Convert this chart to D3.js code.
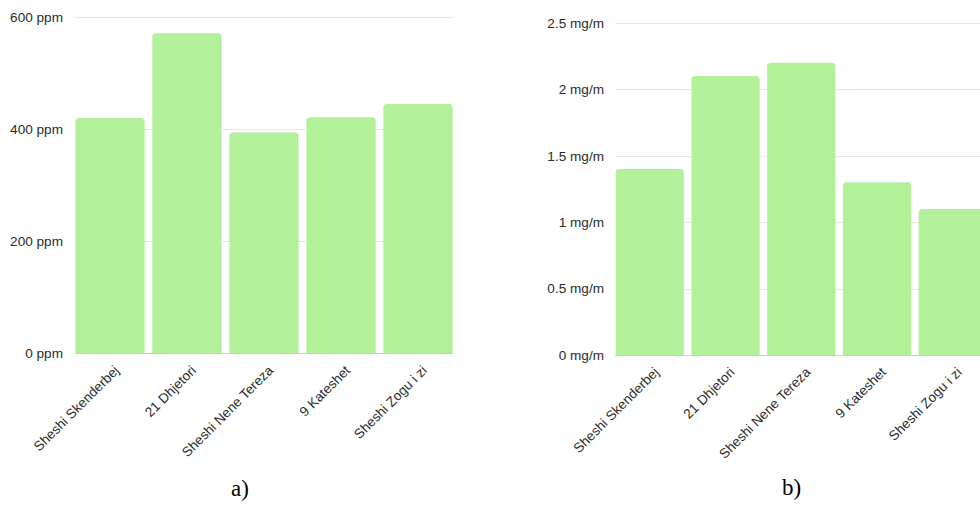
<!DOCTYPE html>
<html>
<head>
<meta charset="utf-8">
<script src="https://cdn.jsdelivr.net/npm/d3@7"></script>
<style>
  html, body { margin: 0; padding: 0; background: #fff; }
  svg { display: block; }
</style>
</head>
<body>
<svg id="chart" width="980" height="506"></svg>
<script>
// Sites measured in both panels
const sites = ["Sheshi Skenderbej", "21 Dhjetori", "Sheshi Nene Tereza", "9 Kateshet", "Sheshi Zogu i zi"];

// Panel a) concentration in ppm
const ppmValues = [420, 571, 394, 421, 445];
const ppmTicks = [0, 200, 400, 600];

// Panel b) concentration in mg/m
const mgValues = [1.4, 2.1, 2.2, 1.3, 1.1];
const mgTicks = [0, 0.5, 1, 1.5, 2, 2.5];

const panelLabels = ["a)", "b)"];

const svg = d3.select("#chart");
const barColor = "#b3f09a";

// Bar with rounded top corners only
function topRoundedBar(x, y, w, h, r) {
  r = Math.min(r, w / 2, h);
  return `M${x},${y + h}V${y + r}Q${x},${y} ${x + r},${y}H${x + w - r}Q${x + w},${y} ${x + w},${y + r}V${y + h}Z`;
}

function drawPanel(cfg) {
  const g = svg.append("g");
  const x = d3.scaleBand()
    .domain(sites)
    .range(cfg.xRange)
    .paddingInner(0.1)
    .paddingOuter(0.05);
  const y = d3.scaleLinear().domain(cfg.yDomain).range(cfg.yRange);

  // Gridlines
  g.selectAll("line.grid")
    .data(cfg.ticks.filter(t => t !== 0))
    .join("line")
    .attr("class", "grid")
    .attr("x1", cfg.gridX[0]).attr("x2", cfg.gridX[1])
    .attr("y1", d => Math.round(y(d)) + 0.5).attr("y2", d => Math.round(y(d)) + 0.5)
    .attr("stroke", "#e6e6e6").attr("stroke-width", 1);

  // Y axis tick labels
  const yAxis = d3.axisLeft(y).tickValues(cfg.ticks).tickSize(0).tickPadding(0)
    .tickFormat(d => cfg.fmt(d));
  const ya = g.append("g")
    .attr("transform", `translate(${cfg.labelX},0)`)
    .call(yAxis);
  ya.select(".domain").remove();
  ya.selectAll("text")
    .attr("font-family", "Liberation Sans, Arial, sans-serif")
    .attr("font-size", 13.6)
    .attr("fill", "#2b2b2b");

  // Bars
  g.selectAll("path.bar")
    .data(cfg.values)
    .join("path")
    .attr("class", "bar")
    .attr("fill", barColor)
    .attr("d", (d, i) => topRoundedBar(x(sites[i]), y(d), x.bandwidth(), y(0) - y(d), 3.5));

  // Baseline
  g.append("line")
    .attr("x1", cfg.gridX[0]).attr("x2", cfg.gridX[1])
    .attr("y1", Math.round(y(0)) + 0.5).attr("y2", Math.round(y(0)) + 0.5)
    .attr("stroke", "#cccccc").attr("stroke-width", 1);

  // Rotated category labels
  const xAxis = d3.axisBottom(x).tickSize(0).tickPadding(0);
  const xa = g.append("g")
    .attr("transform", `translate(0,${y(0)})`)
    .call(xAxis);
  xa.select(".domain").remove();
  xa.selectAll("text")
    .attr("font-family", "Liberation Sans, Arial, sans-serif")
    .attr("font-size", 13.6)
    .attr("fill", "#2b2b2b")
    .attr("text-anchor", "end")
    .attr("y", 0).attr("dy", 0)
    .attr("transform", "translate(10,18) rotate(-45)");

  // Panel caption
  svg.append("text")
    .attr("x", cfg.caption[0]).attr("y", cfg.caption[1])
    .attr("font-family", "Liberation Serif, Times New Roman, serif")
    .attr("font-size", 23)
    .attr("fill", "#000")
    .text(cfg.captionText);
}

drawPanel({
  values: ppmValues,
  ticks: ppmTicks,
  yDomain: [0, 600],
  yRange: [353.3, 17],
  xRange: [71.5, 456.5],
  gridX: [75, 453],
  labelX: 63,
  fmt: d => `${d} ppm`,
  caption: [231, 496],
  captionText: panelLabels[0]
});

drawPanel({
  values: mgValues,
  ticks: mgTicks,
  yDomain: [0, 2.5],
  yRange: [355, 23],
  xRange: [611.9, 990.6],
  gridX: [615, 980],
  labelX: 604,
  fmt: d => `${d} mg/m`,
  caption: [782, 495],
  captionText: panelLabels[1]
});
</script>
</body>
</html>
